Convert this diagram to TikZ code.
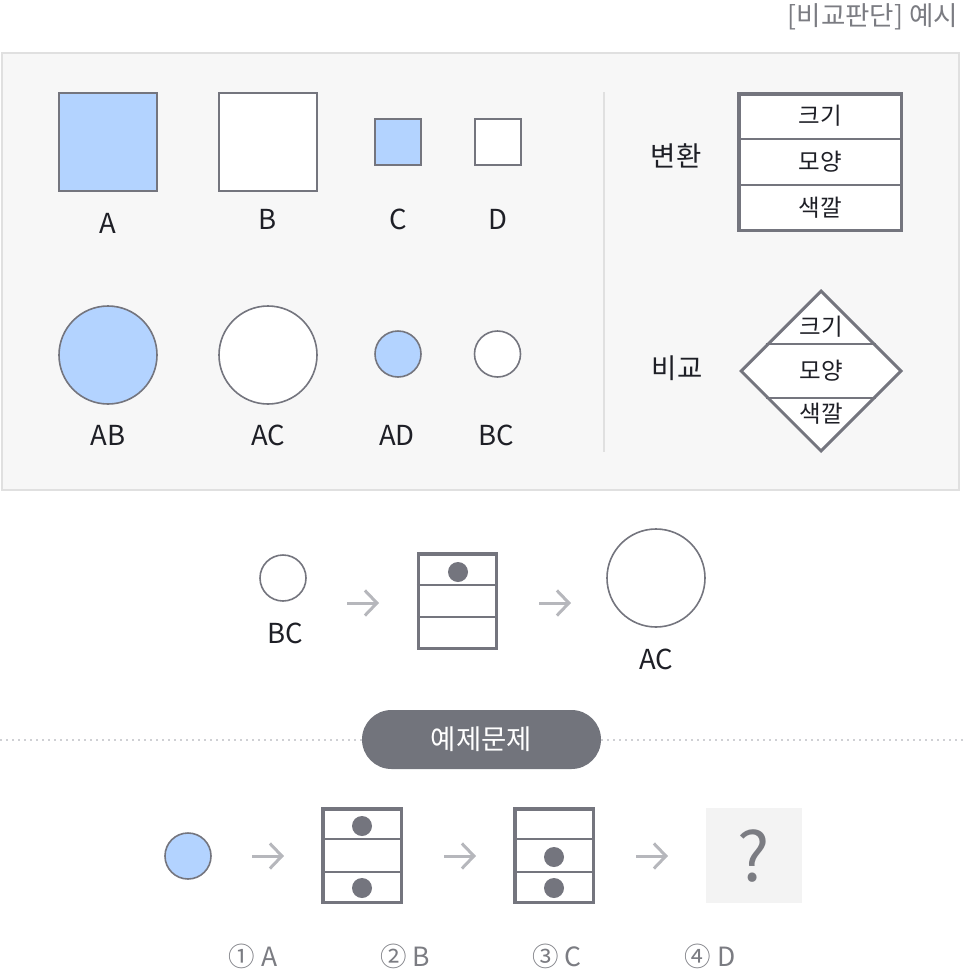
\documentclass[tikz,border=0pt]{standalone}
\usepackage{fontspec}
\setmainfont{Noto Sans CJK KR}
\usetikzlibrary{shapes.geometric,arrows.meta,calc}
\definecolor{edge}{HTML}{74757E}
\definecolor{tint}{HTML}{B3D3FF}
\definecolor{panel}{HTML}{F7F7F7}
\definecolor{rim}{HTML}{E0E0E0}
\definecolor{ink}{HTML}{1E1F26}
\definecolor{soft}{HTML}{7B7C82}
\definecolor{pale}{HTML}{B6B7BC}
\definecolor{dots}{HTML}{CFD0D4}
\definecolor{pillfill}{HTML}{72747C}
\definecolor{qfill}{HTML}{F3F3F3}
\tikzset{
  sq/.style={draw=edge,line width=2pt,minimum size=#1,inner sep=0pt,fill=white},
  ci/.style={circle,draw=edge,line width=1.6pt,minimum size=#1,inner sep=0pt,fill=white},
  lbl/.style={text=ink,font=\fontsize{27.5}{32}\selectfont,inner sep=0pt},
  cell/.style={text=ink,font=\fontsize{23.5}{27}\selectfont,inner sep=0pt},
  tbl/.style={draw=edge,line width=3.5pt,fill=white,inner sep=0pt},
  row/.style={draw=edge,line width=2pt},
  dot/.style={circle,fill=edge,minimum size=20,inner sep=0pt},
  arr/.style={draw=pale,line width=3pt,-{Straight Barb[length=12pt,width=25pt]}},
  ans/.style={text=soft,font=\fontsize{26.5}{30}\selectfont,inner sep=0pt}
}
\begin{document}
\begin{tikzpicture}[x=1pt,y=-1pt]
\useasboundingbox (0,0) rectangle (965,972);
\node[anchor=east,text=soft,font=\fontsize{26.5}{30}\selectfont,inner sep=0pt] (title) at (958,17) {[비교판단] 예시};
% example panel
\node[draw=rim,line width=2pt,fill=panel,minimum width=957,minimum height=437,inner sep=0pt] (pn) at (480,271.5) {};
\coordinate (dv1) at (604,92);
\coordinate (dv2) at (604,452);
\draw[rim,line width=1.5pt] (dv1) -- (dv2);
% figures
\node[sq=98,fill=tint] (fa) at (108,142) {};
\node[sq=98] (fb) at (268,142) {};
\node[sq=46,fill=tint] (fc) at (398,142) {};
\node[sq=46] (fd) at (497.5,142) {};
\node[lbl] (la) at (108,223) {A};
\node[lbl] (lb) at (268,219) {B};
\node[lbl] (lc) at (398,219) {C};
\node[lbl] (ld) at (497.5,219) {D};
\node[ci=98,fill=tint] (fab) at (108,355) {};
\node[ci=98] (fac) at (268,355) {};
\node[ci=46,fill=tint] (fad) at (398,354) {};
\node[ci=46] (fbc) at (497.5,354) {};
\node[lbl] (lab) at (108,435) {AB};
\node[lbl] (lac) at (268,435) {AC};
\node[lbl] (lad) at (397,435) {AD};
\node[lbl] (lbc) at (496,435) {BC};
% legend
\node[lbl] (chg) at (676,156) {변환};
\node[tbl,minimum width=162.5,minimum height=136.5] (tf) at (820,162) {};
\foreach \k in {1,2}
  \draw[row] ($(tf.north west)!\k/3!(tf.south west)$) -- ($(tf.north east)!\k/3!(tf.south east)$);
\node[cell] (tf1) at (820,116) {크기};
\node[cell] (tf2) at (820,162) {모양};
\node[cell] (tf3) at (820,208) {색깔};
\node[lbl] (cmp) at (677,368) {비교};
\node[diamond,draw=edge,line width=3pt,fill=white,minimum width=161,minimum height=161,inner sep=0pt] (cp) at (821,371) {};
\draw[row] ($(cp.north)!0.675!(cp.west)$) -- ($(cp.north)!0.675!(cp.east)$);
\draw[row] ($(cp.south)!0.675!(cp.west)$) -- ($(cp.south)!0.675!(cp.east)$);
\node[cell] (cp1) at (821,327) {크기};
\node[cell] (cp2) at (821,371) {모양};
\node[cell] (cp3) at (821,414) {색깔};
% worked example
\node[ci=46] (sbc) at (283,578) {};
\node[lbl] (sbcl) at (285,633) {BC};
\node[tbl,minimum width=78,minimum height=94.5] (st) at (457.5,601) {};
\foreach \k in {1,2}
  \draw[row] ($(st.north west)!\k/3!(st.south west)$) -- ($(st.north east)!\k/3!(st.south east)$);
\node[dot] (std) at (458,572) {};
\node[ci=98] (sac) at (656,578) {};
\node[lbl] (sacl) at (656,659) {AC};
\coordinate (s1a) at (347,603);
\coordinate (s1b) at (379,603);
\coordinate (s2a) at (539,603);
\coordinate (s2b) at (571,603);
\draw[arr] (s1a) -- (s1b);
\draw[arr] (s2a) -- (s2b);
% divider with badge
\node[fill=pillfill,minimum width=239,minimum height=59,rounded corners=29.5pt,text=white,font=\fontsize{27.5}{32}\selectfont,inner sep=0pt] (ex) at (481.5,739.5) {예제문제};
\coordinate (lnl) at (0,739.5);
\coordinate (lnr) at (965,739.5);
\draw[dots,line width=2pt,dash pattern=on 2pt off 4pt] (lnl) -- (ex.west);
\draw[dots,line width=2pt,dash pattern=on 2pt off 4pt] (ex.east) -- (lnr);
% question
\node[ci=46,fill=tint] (q0) at (188,856) {};
\node[tbl,minimum width=78.5,minimum height=93.5] (q1) at (362,855.5) {};
\foreach \k in {1,2}
  \draw[row] ($(q1.north west)!\k/3!(q1.south west)$) -- ($(q1.north east)!\k/3!(q1.south east)$);
\node[dot] (q1a) at (362,826) {};
\node[dot] (q1b) at (362,888) {};
\node[tbl,minimum width=78.5,minimum height=93.5] (q2) at (554,855.5) {};
\foreach \k in {1,2}
  \draw[row] ($(q2.north west)!\k/3!(q2.south west)$) -- ($(q2.north east)!\k/3!(q2.south east)$);
\node[dot] (q2a) at (554,857) {};
\node[dot] (q2b) at (554,888) {};
\node[fill=qfill,minimum width=96,minimum height=95,inner sep=0pt] (q3) at (754,855.5) {};
\node[text=soft,font=\fontsize{68}{72}\selectfont,inner sep=0pt] (qm) at (754,856) {?};
\coordinate (b1a) at (252,856);
\coordinate (b1b) at (284,856);
\coordinate (b2a) at (444,856);
\coordinate (b2b) at (476,856);
\coordinate (b3a) at (636,856);
\coordinate (b3b) at (668,856);
\draw[arr] (b1a) -- (b1b);
\draw[arr] (b2a) -- (b2b);
\draw[arr] (b3a) -- (b3b);
% choices
\node[ans] (c1) at (253,956) {① A};
\node[ans] (c2) at (405,956) {② B};
\node[ans] (c3) at (557,956) {③ C};
\node[ans] (c4) at (710,956) {④ D};
\end{tikzpicture}
\end{document}
